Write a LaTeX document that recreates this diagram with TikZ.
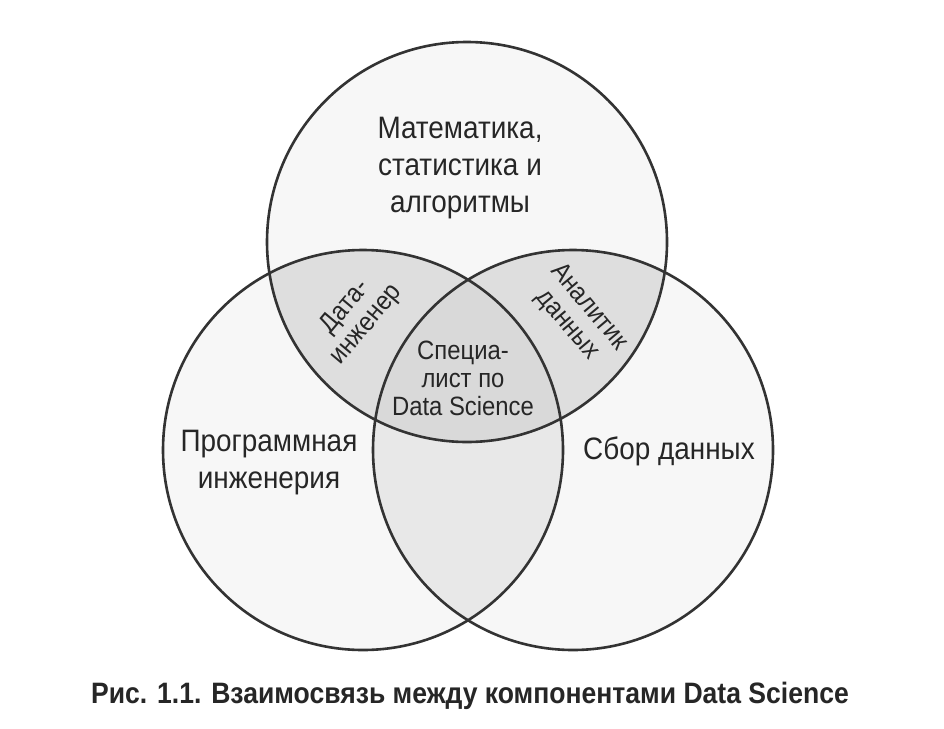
\documentclass[tikz,border=0pt]{standalone}
\usepackage{fontspec}
\setmainfont{Liberation Sans}[FakeStretch=0.9]
\begin{document}
\begin{tikzpicture}[x=1pt,y=-1pt,
  ring/.style={draw=black!80, line width=2.6pt},
  mainlbl/.style={font=\fontsize{31}{37}\selectfont, align=center, text=black!85, inner sep=0pt},
  innerlbl/.style={font=\fontsize{26.5}{28}\selectfont, align=center, text=black!85, inner sep=0pt},
  caplbl/.style={font=\bfseries\fontsize{29.5}{32}\selectfont, text=black!85, inner sep=0pt}]
\useasboundingbox (0,0) rectangle (944,728);
\fill[white] (0,0) rectangle (944,728);
\coordinate (T) at (467,242);
\coordinate (L) at (363,450);
\coordinate (R) at (573,450);
% base fills
\fill[black!3] (L) circle[radius=200pt];
\fill[black!3] (R) circle[radius=200pt];
\fill[black!3] (T) circle[radius=200pt];
% left & right lens
\begin{scope}
  \clip (L) circle[radius=200pt];
  \fill[black!9] (R) circle[radius=200pt];
\end{scope}
% overlaps with the top circle
\begin{scope}
  \clip (T) circle[radius=200pt];
  \fill[black!13] (L) circle[radius=200pt];
  \fill[black!13] (R) circle[radius=200pt];
  \clip (L) circle[radius=200pt];
  \fill[black!15] (R) circle[radius=200pt];
\end{scope}
% outlines
\draw[ring] (T) circle[radius=200pt];
\draw[ring] (L) circle[radius=200pt];
\draw[ring] (R) circle[radius=200pt];
% labels
\node[mainlbl] (math) at (460,168) {Математика,\\статистика и\\алгоритмы};
\node[mainlbl] (prog) at (269,463) {Программная\\инженерия};
\node[mainlbl] (coll) at (669,451) {Сбор данных};
\node[innerlbl, rotate=50] (eng) at (356,316) {Дата-\\инженер};
\node[innerlbl, rotate=-50] (anl) at (578,316) {Аналитик\\данных};
\node[innerlbl] (ds) at (463,378) {Специа-\\лист по\\Data Science};
\node[caplbl] (cap) at (470,696) {Рис. 1.1. Взаимосвязь между компонентами Data Science};
\end{tikzpicture}
\end{document}
